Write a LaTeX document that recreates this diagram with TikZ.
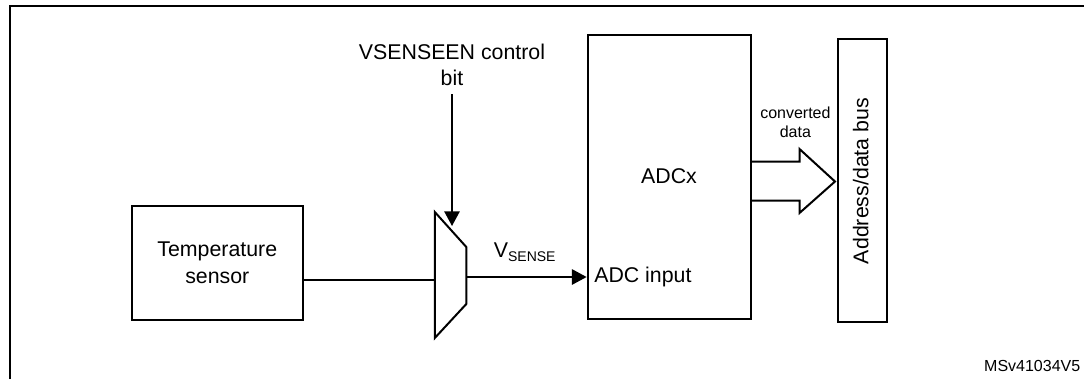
\documentclass[tikz,border=0pt]{standalone}
\usepackage{fontspec}
\setmainfont{Liberation Sans}
\usetikzlibrary{positioning,arrows.meta}
\begin{document}
\begin{tikzpicture}[x=0.75pt,y=-0.75pt]
  % styles
  \tikzset{
    blockbox/.style={draw=black, line width=1.5pt, inner sep=0pt, align=center, font=\fontsize{16}{20}\selectfont},
    lbl/.style={inner sep=0pt, align=center, font=\fontsize{16}{20}\selectfont},
    small/.style={inner sep=0pt, align=center, font=\fontsize{12}{14.5}\selectfont},
    w/.style={draw=black, line width=1.3pt},
    tip/.style={w, -{Triangle[length=11pt,width=11.5pt]}}
  }
  \useasboundingbox (0,0) rectangle (1084,379);

  % frame
  \draw[line width=1.5pt] (9.7,379)--(9.7,6)--(1084,6);

  % blocks
  \node[blockbox, minimum width=128.5pt, minimum height=85.5pt] (sensor) at (217.3,262.5) {Temperature\\sensor};
  \node[blockbox, minimum width=122.5pt, minimum height=213pt] (adc) at (669.3,177) {};
  \node[blockbox, minimum width=37pt, minimum height=212pt] (bus) at (862.2,180.5) {};

  % mux corners
  \coordinate (M1) at (434.8,212);
  \coordinate (M2) at (466.3,247);
  \coordinate (M3) at (466.3,304);
  \coordinate (M4) at (434.8,338);
  \draw[line width=1.5pt, line join=miter] (M1)--(M2)--(M3)--(M4)--cycle;

  % labels
  \node[lbl] (ctrl) at (452,65) {VSENSEEN control\\bit};
  \node[lbl] (adcx) at (669,176) {ADCx};
  \node[lbl, anchor=west] (adcin) at (594,277) {ADC input};
  \node[lbl, rotate=90] (buslbl) at (860.7,181) {Address/data bus};
  \node[small] (conv) at (795.4,122.5) {converted\\data};
  \node[lbl, anchor=west] (vsense) at (493.6,252.5) {V\raisebox{-3pt}{\fontsize{10.5}{10.5}\selectfont SENSE}};
  \node[small, anchor=east] (ref) at (1080.5,366) {MSv41034V5};

  % connectors
  \coordinate (ctrlstart) at (452,94);
  \coordinate (ctrlend) at (452,226);
  \coordinate (muxin) at (434.8,280);
  \coordinate (muxout) at (466.3,277);
  \draw[w] (sensor.east|-muxin)--(muxin);
  \draw[tip] (ctrlstart)--(ctrlend);
  \draw[tip] (muxout)--(adc.west|-muxout);

  % bus arrow
  \coordinate (A1) at (751,161.5);
  \coordinate (A2) at (799.5,161.5);
  \coordinate (A3) at (799.5,149);
  \coordinate (A4) at (835,181.5);
  \coordinate (A5) at (799.5,213);
  \coordinate (A6) at (799.5,200.5);
  \coordinate (A7) at (751,200.5);
  \draw[line width=1.5pt] (A1)--(A2)--(A3)--(A4)--(A5)--(A6)--(A7);
\end{tikzpicture}
\end{document}
